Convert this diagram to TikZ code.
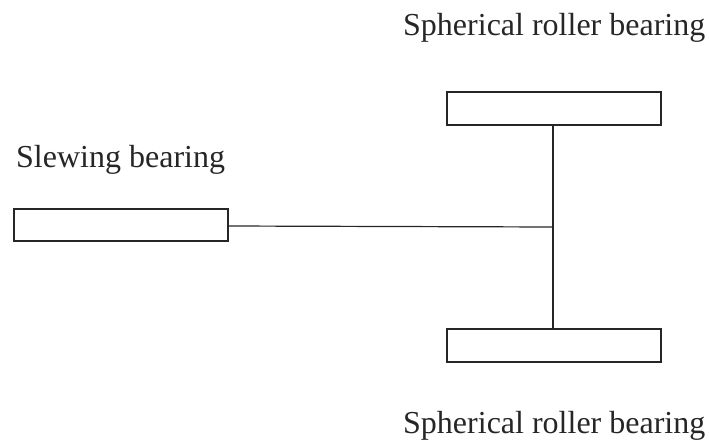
\documentclass[tikz,border=0pt]{standalone}
\usepackage{fontspec}
\setmainfont{Liberation Serif}
\begin{document}
\begin{tikzpicture}[x=1pt,y=-1pt,
  box/.style={draw=black!85,line width=1.2pt,fill=white},
  lbl/.style={inner sep=0pt,anchor=base west,font=\fontsize{32}{36}\selectfont,text=black!85},
  conn/.style={draw=black!85,line width=1.2pt}]
\useasboundingbox (0,0) rectangle (709,439);
\node[lbl] (t1) at (403,35) {Spherical roller bearing};
\node[lbl] (t2) at (403,433) {Spherical roller bearing};
\node[lbl] (t3) at (16,167) {Slewing bearing};
\draw[box] (447,92) rectangle (661,125);
\coordinate (topb) at (553,125);
\draw[box] (447,329) rectangle (661,362);
\coordinate (botb) at (553,329);
\draw[box] (14,209) rectangle (228,241);
\coordinate (lftb) at (228,226);
\coordinate (junc) at (553,227);
\draw[conn] (topb) -- (botb);
\draw[conn] (lftb) -- (junc);
\end{tikzpicture}
\end{document}
